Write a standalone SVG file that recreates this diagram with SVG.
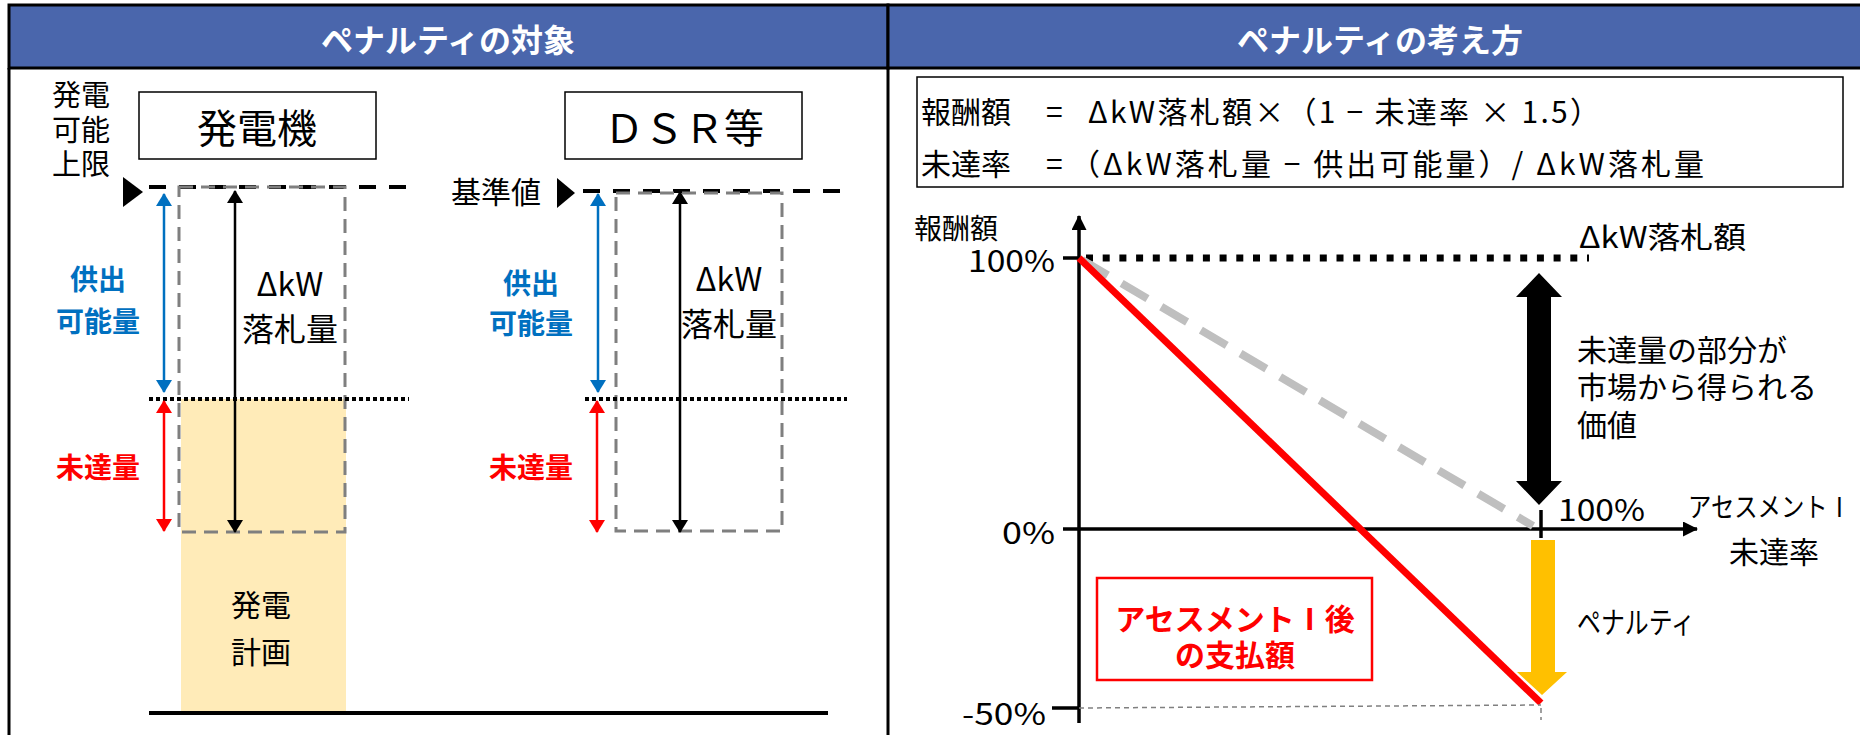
<svg xmlns="http://www.w3.org/2000/svg" width="1860" height="735" viewBox="0 0 1860 735">
<style>
text{font-family:'Noto Sans CJK JP','Noto Sans',sans-serif;fill:#000;dominant-baseline:central}
.hd{font-size:32px;font-weight:bold;fill:#fff;text-anchor:middle}
.c{text-anchor:middle}
.e{text-anchor:end}
.f30{font-size:30px}
.blue{font-size:28px;font-weight:bold;fill:#0070C0;text-anchor:middle}
.red{font-size:28px;font-weight:bold;fill:#FF0000;text-anchor:middle}
.dash{stroke:#000;stroke-width:4;stroke-dasharray:17 13;fill:none}
.dot{stroke:#000;stroke-width:4;stroke-dasharray:4 3;fill:none}
.grect{stroke:#7F7F7F;stroke-width:3;stroke-dasharray:14 8;fill:none}
.ab{stroke:#0070C0;stroke-width:2.5;marker-start:url(#mb);marker-end:url(#mb)}
.ar{stroke:#FF0000;stroke-width:2.5;marker-start:url(#mr);marker-end:url(#mr)}
.ak{stroke:#000;stroke-width:2.5;marker-start:url(#mk);marker-end:url(#mk)}
.axis{stroke:#000;stroke-width:3.5;fill:none}
</style>
<defs>
<marker id="mb" viewBox="0 0 13 16" refX="12" refY="8" markerWidth="13" markerHeight="16" markerUnits="userSpaceOnUse" orient="auto-start-reverse"><path d="M0,0 L13,8 L0,16 z" fill="#0070C0"/></marker>
<marker id="mr" viewBox="0 0 13 16" refX="12" refY="8" markerWidth="13" markerHeight="16" markerUnits="userSpaceOnUse" orient="auto-start-reverse"><path d="M0,0 L13,8 L0,16 z" fill="#FF0000"/></marker>
<marker id="mk" viewBox="0 0 13 16" refX="12" refY="8" markerWidth="13" markerHeight="16" markerUnits="userSpaceOnUse" orient="auto-start-reverse"><path d="M0,0 L13,8 L0,16 z" fill="#000"/></marker>
<marker id="ma" viewBox="0 0 15 15" refX="14" refY="7.5" markerWidth="15" markerHeight="15" markerUnits="userSpaceOnUse" orient="auto"><path d="M0,0 L15,7.5 L0,15 z" fill="#000"/></marker>
</defs>
<rect width="1860" height="735" fill="#fff"/>

<g id="frame">
<rect x="9" y="5" width="879" height="63" fill="#4A66AC" stroke="#000" stroke-width="3"/>
<rect x="888" y="5" width="975" height="63" fill="#4A66AC" stroke="#000" stroke-width="3"/>
<line x1="9" y1="68" x2="9" y2="735" stroke="#000" stroke-width="3"/>
<line x1="888" y1="68" x2="888" y2="735" stroke="#000" stroke-width="3"/>
<text class="hd" x="448" y="38">ペナルティの対象</text>
<text class="hd" x="1380" y="38">ペナルティの考え方</text>
</g>

<g id="left-panel">
<g id="gen-title"><rect x="139" y="92" width="237" height="67" fill="#fff" stroke="#000" stroke-width="1.5"/><text class="c" x="257" y="126" font-size="40">発電機</text></g>
<g id="dsr-title"><rect x="565" y="92" width="237" height="67" fill="#fff" stroke="#000" stroke-width="1.5"/><text class="c" x="684" y="126" font-size="40">ＤＳＲ等</text></g>
<g id="gen-cap-label"><text x="52" y="93" font-size="29">発電</text><text x="52" y="128" font-size="29">可能</text><text x="52" y="162" font-size="29">上限</text></g>
<g id="base-label"><text class="f30" x="451" y="190">基準値</text></g>
<g id="gen-plan">
<rect x="181" y="399" width="165" height="312" fill="#FFEBB8"/>
<text class="c f30" x="261" y="603">発電</text><text class="c f30" x="261" y="650">計画</text>
</g>
<g id="gen-bars">
<polygon points="123,177 143,192 123,207" fill="#000"/>
<line class="dash" x1="149" y1="187" x2="409" y2="187"/>
<rect class="grect" x="179" y="187" width="166" height="345"/>
<line class="dot" x1="149" y1="399" x2="409" y2="399"/>
<text class="c" x="290" y="282" font-size="32">ΔkW</text><text class="c" x="290" y="327" font-size="32">落札量</text>
<text class="blue" x="98" y="278">供出</text><text class="blue" x="98" y="320">可能量</text>
<text class="red" x="98" y="466">未達量</text>
</g>
<g id="dsr-bars">
<polygon points="557,178 575,193 557,208" fill="#000"/>
<line class="dash" x1="583" y1="191" x2="841" y2="191"/>
<rect class="grect" x="616" y="193" width="166" height="338"/>
<line class="dot" x1="585" y1="399" x2="847" y2="399"/>
<text class="c" x="729" y="277" font-size="32">ΔkW</text><text class="c" x="729" y="322" font-size="32">落札量</text>
<text class="blue" x="531" y="282">供出</text><text class="blue" x="531" y="322">可能量</text>
<text class="red" x="531" y="466">未達量</text>
</g>
<line id="ground" x1="149" y1="713" x2="828" y2="713" stroke="#000" stroke-width="4"/>
</g>

<g id="right-panel">
<g id="formula">
<rect x="917" y="77" width="926" height="110" fill="#fff" stroke="#000" stroke-width="1.5"/>
<text class="f30" y="110"><tspan x="921">報酬額</tspan><tspan x="1046">=</tspan></text>
<text class="f30" x="1088" y="110" textLength="512" lengthAdjust="spacing">ΔkW落札額×（1 − 未達率 × 1.5）</text>
<text class="f30" y="162"><tspan x="921">未達率</tspan><tspan x="1046">=</tspan></text>
<text class="f30" x="1070" y="162" textLength="634" lengthAdjust="spacing">（ΔkW落札量 − 供出可能量）/ ΔkW落札量</text>
</g>
<g id="axes">
<line class="axis" x1="1079" y1="723" x2="1079" y2="216" marker-end="url(#ma)"/>
<line class="axis" x1="1063" y1="529" x2="1697" y2="529" marker-end="url(#ma)"/>
<line class="axis" x1="1063" y1="258" x2="1079" y2="258"/>
<line class="axis" x1="1052" y1="708" x2="1079" y2="708"/>
<line class="axis" x1="1541" y1="510" x2="1541" y2="538"/>
<text class="e f30" x="1055" y="259" textLength="87" lengthAdjust="spacingAndGlyphs">100%</text>
<text class="e f30" x="1055" y="531" textLength="53" lengthAdjust="spacingAndGlyphs">0%</text>
<text class="e f30" x="1046" y="712" textLength="84" lengthAdjust="spacingAndGlyphs">-50%</text>
<text x="914" y="227" font-size="28">報酬額</text>
<text class="f30" x="1558" y="508" textLength="87" lengthAdjust="spacingAndGlyphs">100%</text>
<text x="1688" y="505" font-size="27" textLength="163" lengthAdjust="spacingAndGlyphs">アセスメントⅠ</text>
<text class="c f30" x="1774" y="550">未達率</text>
</g>
<g id="connectors">
<line x1="1086" y1="258" x2="1589" y2="258" stroke="#000" stroke-width="7" stroke-dasharray="7 9.7"/>
<line x1="1082" y1="260" x2="1533" y2="526" stroke="#BFBFBF" stroke-width="8" stroke-dasharray="30 16"/>
<line x1="1079" y1="258" x2="1541" y2="703" stroke="#FF0000" stroke-width="7"/>
<line x1="1079" y1="708" x2="1541" y2="705" stroke="#808080" stroke-width="1.5" stroke-dasharray="5 4"/>
<line x1="1541" y1="708" x2="1541" y2="720" stroke="#808080" stroke-width="1.5" stroke-dasharray="5 4"/>
<line class="ab" x1="164" y1="194" x2="164" y2="392"/>
<line class="ar" x1="164" y1="401" x2="164" y2="531"/>
<line class="ak" x1="235" y1="191" x2="235" y2="532"/>
<line class="ab" x1="598" y1="194" x2="598" y2="392"/>
<line class="ar" x1="597" y1="401" x2="597" y2="532"/>
<line class="ak" x1="680" y1="192" x2="680" y2="532"/>
</g>
<g id="market-arrow">
<polygon points="1539,273 1562,297 1551,297 1551,481 1562,481 1539,505 1516,481 1527,481 1527,297 1516,297" fill="#000"/>
<text class="f30" x="1577" y="348">未達量の部分が</text>
<text class="f30" x="1577" y="385">市場から得られる</text>
<text class="f30" x="1577" y="423">価値</text>
</g>
<g id="bid-label"><text class="f30" x="1579" y="235" textLength="167" lengthAdjust="spacingAndGlyphs">ΔkW落札額</text></g>
<g id="penalty-arrow">
<polygon points="1531,540 1555,540 1555,672 1567,672 1542,695 1517,672 1531,672" fill="#FFC000"/>
<text class="f30" x="1577" y="620" textLength="118" lengthAdjust="spacingAndGlyphs">ペナルティ</text>
</g>
<g id="payment-box">
<rect x="1097" y="578" width="275" height="102" fill="#fff" stroke="#FF0000" stroke-width="2.5"/>
<text class="c f30" x="1235" y="617" font-weight="bold" style="fill:#FF0000">アセスメントⅠ後</text>
<text class="c f30" x="1235" y="653" font-weight="bold" style="fill:#FF0000">の支払額</text>
</g>
</g>
</svg>
